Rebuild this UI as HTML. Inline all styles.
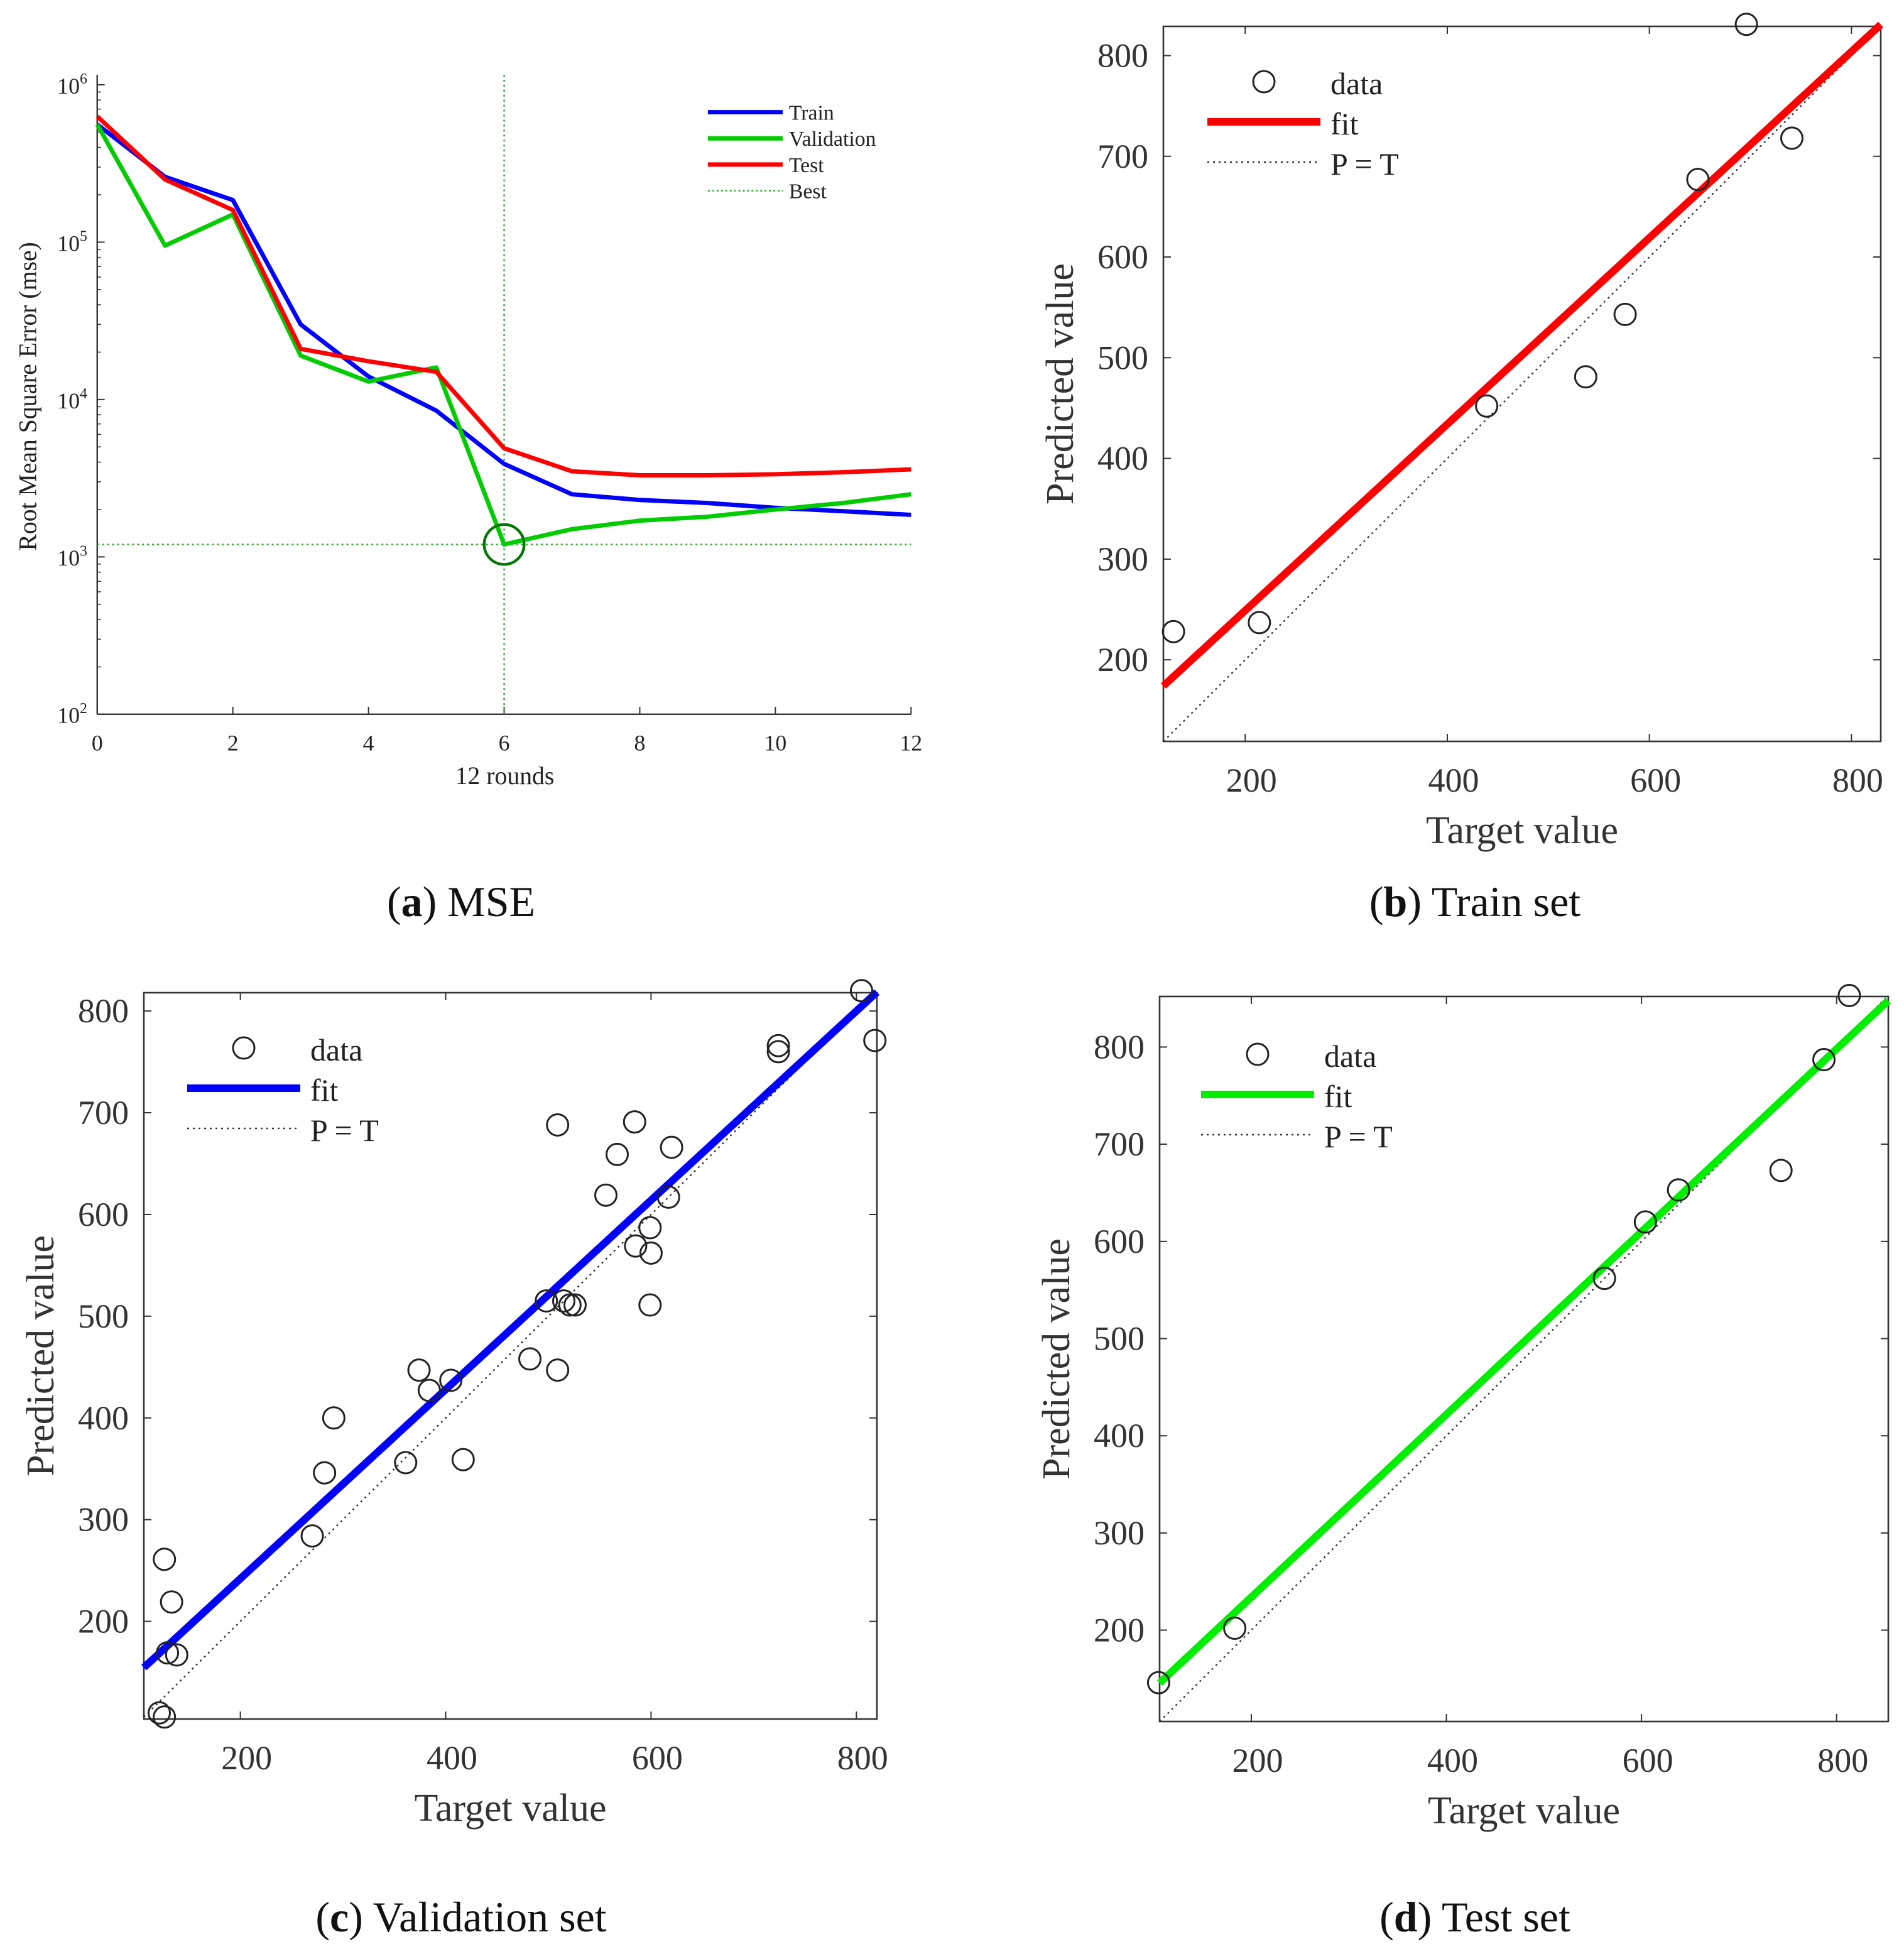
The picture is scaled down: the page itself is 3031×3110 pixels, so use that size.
<!DOCTYPE html>
<html><head><meta charset="utf-8"><style>
html,body{margin:0;padding:0;background:#fff;}
svg{display:block;font-family:"Liberation Serif",serif;}
</style></head><body>
<svg id="fig" width="3031" height="3110" viewBox="0 0 1515.5 1555" xmlns="http://www.w3.org/2000/svg"></svg>
<script>
// ---- Panel a data ----
const roundsA = [0,1,2,3,4,5,6,7,8,9,10,11,12];
const trainMse = [5.6e5,2.6e5,1.85e5,3.0e4,1.4e4,8.5e3,3.9e3,2.5e3,2.3e3,2.2e3,2.05e3,1.95e3,1.85e3];
const valMse   = [5.6e5,9.5e4,1.5e5,1.9e4,1.3e4,1.6e4,1.2e3,1.5e3,1.7e3,1.8e3,2.0e3,2.2e3,2.5e3];
const testMse  = [6.3e5,2.5e5,1.6e5,2.1e4,1.75e4,1.5e4,4.9e3,3.5e3,3.3e3,3.3e3,3.35e3,3.45e3,3.6e3];
const bestEpoch = 6;
const bestMse = 1.2e3;
const xTicksA = [0,2,4,6,8,10,12];
const yExpA = [2,3,4,5,6];
// ---- Panel b data ----
const trainT = [129,214,439,537,576,648,696,741];
const trainP = [228,237,452,481,543,677,831,718];
const trainFit = [64,0.925];
// ---- Panel c data ----
const valT = [126,133,129,138,121,126,270,282,291,361,374,384,405,417,482,509,509,498,515,521,526,556,567,584,585,599,600,599,617,620,724,724,805,818];
const valP = [261,219,169,167,110,106,284,346,400,356,447,427,437,359,458,447,688,515,515,511,511,619,659,691,569,587,562,511,617,666,766,760,820,771];
const valFit = [56,0.93];
// ---- Panel d data ----
const testT = [105,183,562,604,638,743,787,813];
const testP = [146,202,562,620,653,673,787,853];
const testFit = [46,0.94];
const scatterTicks = [200,300,400,500,600,700,800];
const scatterXTicks = [200,400,600,800];

const NS="http://www.w3.org/2000/svg";
const svg=document.getElementById('fig');
function mk(tag,attrs,parent){const e=document.createElementNS(NS,tag);for(const k in attrs)e.setAttribute(k,attrs[k]);(parent||svg).appendChild(e);return e;}
function txt(s,attrs,parent){const e=mk('text',attrs,parent);e.textContent=s;return e;}

// ===== Panel a =====
(function(){
  const g=mk('g',{transform:'scale(0.992)'});
  
  
  const L=78,R=731,T=68,B=573;
  const sx=v=>L+(v-0)/12*(R-L);
  const sy=v=>B-(Math.log10(v)-2)/4*(B-T);
  mk('line',{x1:L,y1:T-8,x2:L,y2:B,stroke:'#333','stroke-width':1.2},g);
  mk('line',{x1:L,y1:B,x2:R,y2:B,stroke:'#333','stroke-width':1.2},g);
  xTicksA.forEach(t=>{
    mk('line',{x1:sx(t),y1:B,x2:sx(t),y2:B-6,stroke:'#333','stroke-width':1},g);
    const e=txt(String(t),{x:sx(t),y:B+29,'font-size':18,'text-anchor':'middle',fill:'#222'},g);
    
    
  });
  yExpA.forEach(p=>{
    const y=sy(Math.pow(10,p));
    mk('line',{x1:L,y1:y,x2:L+6,y2:y,stroke:'#333','stroke-width':1},g);
    const e=mk('text',{x:L-8,y:y+7,'font-size':18,'text-anchor':'end',fill:'#222'},g);
    e.innerHTML='10<tspan dy="-8" font-size="12">'+p+'</tspan>';
    
    
    if(p<6){for(let m=2;m<=9;m++){const ym=sy(m*Math.pow(10,p));mk('line',{x1:L,y1:ym,x2:L+3,y2:ym,stroke:'#333','stroke-width':0.8},g);}}
  });
  const xl=txt('12 rounds',{x:405,y:629,'font-size':20,'text-anchor':'middle',fill:'#222'},g);
  
  const yl=txt('Root Mean Square Error (mse)',{x:0,y:0,'font-size':20,'text-anchor':'middle',fill:'#222',transform:'translate(29,318) rotate(-90)'},g);
  
  mk('line',{x1:sx(bestEpoch),y1:T-8,x2:sx(bestEpoch),y2:B,stroke:'#22aa22','stroke-width':1.2,'stroke-dasharray':'1.5,2.5'},g);
  mk('line',{x1:L,y1:sy(bestMse),x2:R,y2:sy(bestMse),stroke:'#22aa22','stroke-width':1.2,'stroke-dasharray':'1.5,2.5'},g);
  function series(arr,col,name){
    const p=mk('polyline',{points:roundsA.map((r,i)=>sx(r)+','+sy(arr[i])).join(' '),fill:'none',stroke:col,'stroke-width':3.5,'stroke-linejoin':'round'},g);
    
    
  }
  series(trainMse,'#0000ff','train-line');
  series(valMse,'#00cc00','validation-line');
  series(testMse,'#ff0000','test-line');
  const c=mk('circle',{cx:sx(bestEpoch),cy:sy(bestMse),r:16,fill:'none',stroke:'#007700','stroke-width':2.2},g);
  
  const lg=mk('g',{},g);
  
  [['Train','#0000ff',0],['Validation','#00cc00',0],['Test','#ff0000',0],['Best','#22aa22',1]].forEach((d,i)=>{
    const y=90+i*21;
    mk('line',{x1:568,y1:y,x2:628,y2:y,stroke:d[1],'stroke-width':d[2]?1.2:3.5,'stroke-dasharray':d[2]?'1.5,2':''},lg);
    const t=txt(d[0],{x:633,y:y+6,'font-size':17,fill:'#222'},lg);
    
  });
})();

function caption(letter,cap,x,y){
  const c=mk('text',{x:x,y:y,'font-size':34,'text-anchor':'middle',fill:'#111'});
  c.innerHTML='(<tspan font-weight="bold">'+letter+'</tspan>) '+cap;
  
}
caption('a','MSE',367,729);

// ===== Scatter panels =====
function scatter(o){
  const g=mk('g',{});
  
  
  const {L,R,T,B,xmin,xmax,ymin,ymax}=o;
  const sx=v=>L+(v-xmin)/(xmax-xmin)*(R-L);
  const sy=v=>B-(v-ymin)/(ymax-ymin)*(B-T);
  mk('rect',{x:L,y:T,width:R-L,height:B-T,fill:'none',stroke:'#333','stroke-width':1.3},g);
  scatterXTicks.forEach(t=>{
    mk('line',{x1:sx(t),y1:B,x2:sx(t),y2:B-6,stroke:'#333'},g);
    mk('line',{x1:sx(t),y1:T,x2:sx(t),y2:T+6,stroke:'#333'},g);
    const e=txt(String(t),{x:sx(t)+5,y:B+40,'font-size':27,'text-anchor':'middle',fill:'#333'},g);
    
  });
  scatterTicks.forEach(t=>{
    mk('line',{x1:L,y1:sy(t),x2:L+6,y2:sy(t),stroke:'#333'},g);
    mk('line',{x1:R,y1:sy(t),x2:R-6,y2:sy(t),stroke:'#333'},g);
    const e=txt(String(t),{x:L-12,y:sy(t)+9,'font-size':27,'text-anchor':'end',fill:'#333'},g);
    
  });
  const xl=txt('Target value',{x:(L+R)/2,y:B+81,'font-size':31,'text-anchor':'middle',fill:'#333'},g);
  
  const yl=txt('Predicted value',{x:0,y:0,'font-size':31,'text-anchor':'middle',fill:'#333',transform:'translate('+(L-72)+','+((T+B)/2)+') rotate(-90)'},g);
  
  const lo=Math.max(xmin,ymin),hi=Math.min(xmax,ymax);
  const pt=mk('line',{x1:sx(lo),y1:sy(lo),x2:sx(hi),y2:sy(hi),stroke:'#333','stroke-width':1.2,'stroke-dasharray':'1.5,3'},g);
  
  const f=mk('line',{x1:sx(xmin),y1:sy(o.fit[0]+o.fit[1]*xmin),x2:sx(xmax),y2:sy(o.fit[0]+o.fit[1]*xmax),stroke:o.col,'stroke-width':6},g);
  
  o.t.forEach((v,i)=>{
    const c=mk('circle',{cx:sx(v),cy:sy(o.p[i]),r:8.5,fill:'none',stroke:'#222','stroke-width':1.5},g);
    
    
  });
  const lx=o.lx,ly=o.ly;
  const lg=mk('g',{},g);
  
  mk('circle',{cx:lx+45,cy:ly,r:8.5,fill:'none',stroke:'#222','stroke-width':1.5},lg);
  mk('line',{x1:lx,y1:ly+32,x2:lx+90,y2:ly+32,stroke:o.col,'stroke-width':6},lg);
  mk('line',{x1:lx,y1:ly+64,x2:lx+90,y2:ly+64,stroke:'#333','stroke-width':1.2,'stroke-dasharray':'1.5,3'},lg);
  [['data',0],['fit',32],['P = T',64]].forEach(d=>{
    const t=txt(d[0],{x:lx+98,y:ly+d[1]+10,'font-size':25,fill:'#222'},lg);
    
  });
}
scatter({name:'train-scatter',L:926,R:1497,T:21,B:590,xmin:119,xmax:829,ymin:119,ymax:829,t:trainT,p:trainP,fit:trainFit,col:'#ff0000',lx:961,ly:65});
scatter({name:'validation-scatter',L:114.5,R:698,T:790,B:1368,xmin:106,xmax:820,ymin:104,ymax:818,t:valT,p:valP,fit:valFit,col:'#0000ff',lx:149,ly:834});
scatter({name:'test-scatter',L:923,R:1503,T:793,B:1370,xmin:106,xmax:853,ymin:106,ymax:852,t:testT,p:testP,fit:testFit,col:'#00ee00',lx:956,ly:839});
caption('b','Train set',1174,729);
caption('c','Validation set',367,1537);
caption('d','Test set',1174,1537);
</script>
</body></html>
